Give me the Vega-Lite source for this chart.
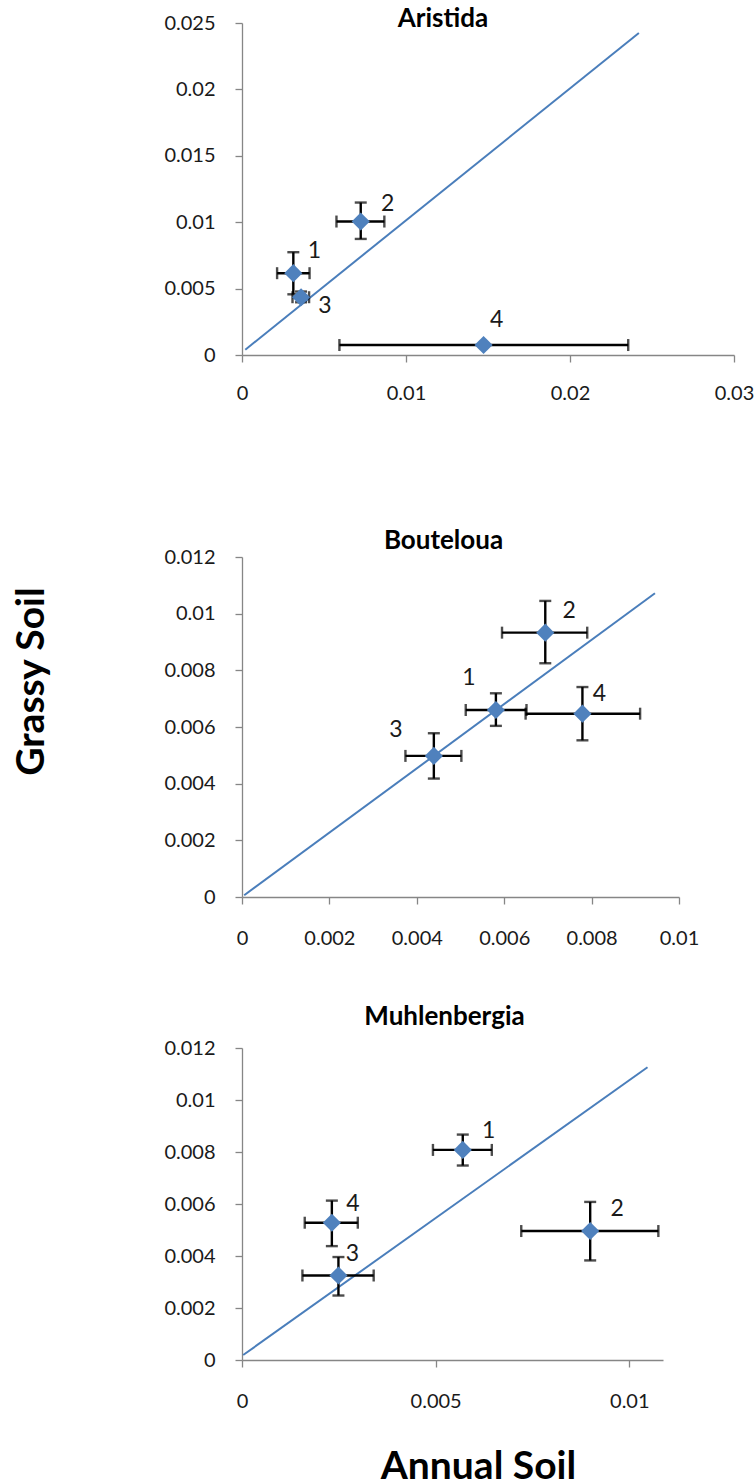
{
  "$schema": "https://vega.github.io/schema/vega-lite/v6.json",
  "background": "white",
  "padding": {"left": 12, "top": 6, "right": 0, "bottom": 0},
  "spacing": 125,
  "config": {
    "font": "Lato",
    "view": {"stroke": null},
    "axis": {
      "grid": false,
      "domainColor": "#868686",
      "tickColor": "#868686",
      "domainWidth": 1.3,
      "tickWidth": 1.3,
      "tickSize": 7,
      "labelFont": "Lato",
      "labelFontSize": 20,
      "labelColor": "#1a1a1a",
      "labelFlush": false,
      "labelOverlap": false,
      "titleFont": "Lato",
      "titleFontWeight": "bold",
      "titleFontSize": 39,
      "titleColor": "#000000"
    },
    "title": {"font": "Lato", "fontSize": 26, "fontWeight": "bold", "color": "#000000", "anchor": "middle", "baseline": "alphabetic"},
    "text": {"font": "Lato", "fontSize": 23, "color": "#1a1a1a", "align": "center", "baseline": "middle"}
  },
  "datasets": {
    "points": [
      {"species": "Aristida", "id": "1", "x": 0.00313, "y": 0.00616, "x_lo": 0.00214, "x_hi": 0.00412, "y_lo": 0.00457, "y_hi": 0.00774},
      {"species": "Aristida", "id": "2", "x": 0.00724, "y": 0.01005, "x_lo": 0.00576, "x_hi": 0.00868, "y_lo": 0.00874, "y_hi": 0.01148},
      {"species": "Aristida", "id": "3", "x": 0.0036, "y": 0.00435, "x_lo": 0.00308, "x_hi": 0.00409, "y_lo": 0.00397, "y_hi": 0.00478},
      {"species": "Aristida", "id": "4", "x": 0.01473, "y": 0.00075, "x_lo": 0.00594, "x_hi": 0.02355, "y_lo": 0.0007, "y_hi": 0.0008},
      {"species": "Bouteloua", "id": "1", "x": 0.00581, "y": 0.0066, "x_lo": 0.00512, "x_hi": 0.00651, "y_lo": 0.00604, "y_hi": 0.00719},
      {"species": "Bouteloua", "id": "2", "x": 0.00694, "y": 0.00933, "x_lo": 0.00595, "x_hi": 0.0079, "y_lo": 0.00825, "y_hi": 0.01045},
      {"species": "Bouteloua", "id": "3", "x": 0.00439, "y": 0.00498, "x_lo": 0.00374, "x_hi": 0.00502, "y_lo": 0.00418, "y_hi": 0.00578},
      {"species": "Bouteloua", "id": "4", "x": 0.00779, "y": 0.00647, "x_lo": 0.00649, "x_hi": 0.00911, "y_lo": 0.00553, "y_hi": 0.00741},
      {"species": "Muhlenbergia", "id": "1", "x": 0.0057, "y": 0.00808, "x_lo": 0.00493, "x_hi": 0.00645, "y_lo": 0.00748, "y_hi": 0.00867},
      {"species": "Muhlenbergia", "id": "2", "x": 0.00899, "y": 0.00496, "x_lo": 0.00721, "x_hi": 0.01075, "y_lo": 0.00383, "y_hi": 0.00608},
      {"species": "Muhlenbergia", "id": "3", "x": 0.00249, "y": 0.00325, "x_lo": 0.00156, "x_hi": 0.0034, "y_lo": 0.00248, "y_hi": 0.00396},
      {"species": "Muhlenbergia", "id": "4", "x": 0.00232, "y": 0.00528, "x_lo": 0.00162, "x_hi": 0.00299, "y_lo": 0.00438, "y_hi": 0.00613}
    ],
    "fit": [
      {"species": "Aristida", "x": 0.0002, "y": 0.0004},
      {"species": "Aristida", "x": 0.0242, "y": 0.02425},
      {"species": "Bouteloua", "x": 0.00005, "y": 0.00006},
      {"species": "Bouteloua", "x": 0.00945, "y": 0.01072},
      {"species": "Muhlenbergia", "x": 0.00003, "y": 0.00019},
      {"species": "Muhlenbergia", "x": 0.01047, "y": 0.01126}
    ]
  },
  "vconcat": [
    {
      "width": 492,
      "height": 332,
      "title": {"text": "Aristida", "offset": -19, "dx": -45},
      "layer": [
        {
          "data": {"name": "fit"},
          "transform": [{"filter": "datum.species === 'Aristida'"}],
          "mark": {"type": "line", "color": "#4A7EBB", "strokeWidth": 2},
          "encoding": {
            "x": {"field": "x", "type": "quantitative", "scale": {"domain": [0, 0.03], "nice": false, "zero": true}, "axis": {"values": [0, 0.01, 0.02, 0.03], "format": "~g", "title": null, "labelPadding": 21}},
            "y": {"field": "y", "type": "quantitative", "scale": {"domain": [0, 0.025], "nice": false, "zero": true}, "axis": {"values": [0, 0.005, 0.01, 0.015, 0.02, 0.025], "format": "~g", "title": null, "labelPadding": 20}}
          }
        },
        {
          "data": {"name": "points"},
          "transform": [{"filter": "datum.species === 'Aristida'"}],
          "mark": {"type": "errorbar", "ticks": true, "color": "#000000", "thickness": 2.4, "size": 12},
          "encoding": {
            "x": {"field": "x_lo", "type": "quantitative", "scale": {"domain": [0, 0.03], "nice": false}},
            "x2": {"field": "x_hi"},
            "y": {"field": "y", "type": "quantitative", "scale": {"domain": [0, 0.025], "nice": false}}
          }
        },
        {
          "data": {"name": "points"},
          "transform": [{"filter": "datum.species === 'Aristida'"}],
          "mark": {"type": "errorbar", "ticks": true, "color": "#000000", "thickness": 2.4, "size": 12},
          "encoding": {
            "y": {"field": "y_lo", "type": "quantitative", "scale": {"domain": [0, 0.025], "nice": false}},
            "y2": {"field": "y_hi"},
            "x": {"field": "x", "type": "quantitative", "scale": {"domain": [0, 0.03], "nice": false}}
          }
        },
        {
          "data": {"name": "points"},
          "transform": [{"filter": "datum.species === 'Aristida'"}],
          "mark": {"type": "point", "shape": "diamond", "filled": true, "color": "#4F81BD", "opacity": 1, "size": 330},
          "encoding": {
            "x": {"field": "x", "type": "quantitative", "scale": {"domain": [0, 0.03], "nice": false}},
            "y": {"field": "y", "type": "quantitative", "scale": {"domain": [0, 0.025], "nice": false}}
          }
        },
        {
          "data": {"name": "points"},
          "transform": [{"filter": "datum.species === 'Aristida' && datum.id === '1'"}],
          "mark": {"type": "text", "dx": 21, "dy": -22},
          "encoding": {
            "x": {"field": "x", "type": "quantitative", "scale": {"domain": [0, 0.03], "nice": false}},
            "y": {"field": "y", "type": "quantitative", "scale": {"domain": [0, 0.025], "nice": false}},
            "text": {"field": "id"}
          }
        },
        {
          "data": {"name": "points"},
          "transform": [{"filter": "datum.species === 'Aristida' && datum.id === '2'"}],
          "mark": {"type": "text", "dx": 27, "dy": -18},
          "encoding": {
            "x": {"field": "x", "type": "quantitative", "scale": {"domain": [0, 0.03], "nice": false}},
            "y": {"field": "y", "type": "quantitative", "scale": {"domain": [0, 0.025], "nice": false}},
            "text": {"field": "id"}
          }
        },
        {
          "data": {"name": "points"},
          "transform": [{"filter": "datum.species === 'Aristida' && datum.id === '3'"}],
          "mark": {"type": "text", "dx": 24, "dy": 9},
          "encoding": {
            "x": {"field": "x", "type": "quantitative", "scale": {"domain": [0, 0.03], "nice": false}},
            "y": {"field": "y", "type": "quantitative", "scale": {"domain": [0, 0.025], "nice": false}},
            "text": {"field": "id"}
          }
        },
        {
          "data": {"name": "points"},
          "transform": [{"filter": "datum.species === 'Aristida' && datum.id === '4'"}],
          "mark": {"type": "text", "dx": 13, "dy": -25},
          "encoding": {
            "x": {"field": "x", "type": "quantitative", "scale": {"domain": [0, 0.03], "nice": false}},
            "y": {"field": "y", "type": "quantitative", "scale": {"domain": [0, 0.025], "nice": false}},
            "text": {"field": "id"}
          }
        }
      ]
    },
    {
      "spacing": 56,
      "vconcat": [
        {
          "width": 437,
          "height": 340,
          "title": {"text": "Bouteloua", "offset": -7, "dx": -17},
          "layer": [
            {
              "data": {"name": "fit"},
              "transform": [{"filter": "datum.species === 'Bouteloua'"}],
              "mark": {"type": "line", "color": "#4A7EBB", "strokeWidth": 2},
              "encoding": {
                "x": {"field": "x", "type": "quantitative", "scale": {"domain": [0, 0.01], "nice": false, "zero": true}, "axis": {"values": [0, 0.002, 0.004, 0.006, 0.008, 0.01], "format": "~g", "title": null, "labelPadding": 24}},
                "y": {"field": "y", "type": "quantitative", "title": "Grassy Soil", "scale": {"domain": [0, 0.012], "nice": false, "zero": true}, "axis": {"values": [0, 0.002, 0.004, 0.006, 0.008, 0.01, 0.012], "format": "~g", "labelPadding": 20, "titleX": -199, "titleY": 124, "titleAngle": -90, "titleBaseline": "alphabetic", "titleAlign": "center"}}
              }
            },
            {
              "data": {"name": "points"},
              "transform": [{"filter": "datum.species === 'Bouteloua'"}],
              "mark": {"type": "errorbar", "ticks": true, "color": "#000000", "thickness": 2.4, "size": 12},
              "encoding": {
                "x": {"field": "x_lo", "type": "quantitative", "scale": {"domain": [0, 0.01], "nice": false}},
                "x2": {"field": "x_hi"},
                "y": {"field": "y", "type": "quantitative", "title": "Grassy Soil", "scale": {"domain": [0, 0.012], "nice": false}}
              }
            },
            {
              "data": {"name": "points"},
              "transform": [{"filter": "datum.species === 'Bouteloua'"}],
              "mark": {"type": "errorbar", "ticks": true, "color": "#000000", "thickness": 2.4, "size": 12},
              "encoding": {
                "y": {"field": "y_lo", "type": "quantitative", "title": "Grassy Soil", "scale": {"domain": [0, 0.012], "nice": false}},
                "y2": {"field": "y_hi"},
                "x": {"field": "x", "type": "quantitative", "scale": {"domain": [0, 0.01], "nice": false}}
              }
            },
            {
              "data": {"name": "points"},
              "transform": [{"filter": "datum.species === 'Bouteloua'"}],
              "mark": {"type": "point", "shape": "diamond", "filled": true, "color": "#4F81BD", "opacity": 1, "size": 330},
              "encoding": {
                "x": {"field": "x", "type": "quantitative", "scale": {"domain": [0, 0.01], "nice": false}},
                "y": {"field": "y", "type": "quantitative", "title": "Grassy Soil", "scale": {"domain": [0, 0.012], "nice": false}}
              }
            },
            {
              "data": {"name": "points"},
              "transform": [{"filter": "datum.species === 'Bouteloua' && datum.id === '1'"}],
              "mark": {"type": "text", "dx": -27, "dy": -32},
              "encoding": {
                "x": {"field": "x", "type": "quantitative", "scale": {"domain": [0, 0.01], "nice": false}},
                "y": {"field": "y", "type": "quantitative", "title": "Grassy Soil", "scale": {"domain": [0, 0.012], "nice": false}},
                "text": {"field": "id"}
              }
            },
            {
              "data": {"name": "points"},
              "transform": [{"filter": "datum.species === 'Bouteloua' && datum.id === '2'"}],
              "mark": {"type": "text", "dx": 24, "dy": -22},
              "encoding": {
                "x": {"field": "x", "type": "quantitative", "scale": {"domain": [0, 0.01], "nice": false}},
                "y": {"field": "y", "type": "quantitative", "title": "Grassy Soil", "scale": {"domain": [0, 0.012], "nice": false}},
                "text": {"field": "id"}
              }
            },
            {
              "data": {"name": "points"},
              "transform": [{"filter": "datum.species === 'Bouteloua' && datum.id === '3'"}],
              "mark": {"type": "text", "dx": -38, "dy": -26},
              "encoding": {
                "x": {"field": "x", "type": "quantitative", "scale": {"domain": [0, 0.01], "nice": false}},
                "y": {"field": "y", "type": "quantitative", "title": "Grassy Soil", "scale": {"domain": [0, 0.012], "nice": false}},
                "text": {"field": "id"}
              }
            },
            {
              "data": {"name": "points"},
              "transform": [{"filter": "datum.species === 'Bouteloua' && datum.id === '4'"}],
              "mark": {"type": "text", "dx": 17, "dy": -20},
              "encoding": {
                "x": {"field": "x", "type": "quantitative", "scale": {"domain": [0, 0.01], "nice": false}},
                "y": {"field": "y", "type": "quantitative", "title": "Grassy Soil", "scale": {"domain": [0, 0.012], "nice": false}},
                "text": {"field": "id"}
              }
            }
          ]
        },
        {
          "width": 421,
          "height": 312,
          "title": {"text": "Muhlenbergia", "offset": 8, "dx": -8},
          "layer": [
            {
              "data": {"name": "fit"},
              "transform": [{"filter": "datum.species === 'Muhlenbergia'"}],
              "mark": {"type": "line", "color": "#4A7EBB", "strokeWidth": 2},
              "encoding": {
                "x": {"field": "x", "type": "quantitative", "title": "Annual Soil", "scale": {"domain": [0, 0.01087], "nice": false, "zero": true}, "axis": {"values": [0, 0.005, 0.01], "format": "~g", "labelPadding": 24, "titleX": 236, "titleY": 118, "titleBaseline": "alphabetic", "titleAlign": "center"}},
                "y": {"field": "y", "type": "quantitative", "scale": {"domain": [0, 0.012], "nice": false, "zero": true}, "axis": {"values": [0, 0.002, 0.004, 0.006, 0.008, 0.01, 0.012], "format": "~g", "title": null, "labelPadding": 20}}
              }
            },
            {
              "data": {"name": "points"},
              "transform": [{"filter": "datum.species === 'Muhlenbergia'"}],
              "mark": {"type": "errorbar", "ticks": true, "color": "#000000", "thickness": 2.4, "size": 12},
              "encoding": {
                "x": {"field": "x_lo", "type": "quantitative", "title": "Annual Soil", "scale": {"domain": [0, 0.01087], "nice": false}},
                "x2": {"field": "x_hi"},
                "y": {"field": "y", "type": "quantitative", "scale": {"domain": [0, 0.012], "nice": false}}
              }
            },
            {
              "data": {"name": "points"},
              "transform": [{"filter": "datum.species === 'Muhlenbergia'"}],
              "mark": {"type": "errorbar", "ticks": true, "color": "#000000", "thickness": 2.4, "size": 12},
              "encoding": {
                "y": {"field": "y_lo", "type": "quantitative", "scale": {"domain": [0, 0.012], "nice": false}},
                "y2": {"field": "y_hi"},
                "x": {"field": "x", "type": "quantitative", "title": "Annual Soil", "scale": {"domain": [0, 0.01087], "nice": false}}
              }
            },
            {
              "data": {"name": "points"},
              "transform": [{"filter": "datum.species === 'Muhlenbergia'"}],
              "mark": {"type": "point", "shape": "diamond", "filled": true, "color": "#4F81BD", "opacity": 1, "size": 330},
              "encoding": {
                "x": {"field": "x", "type": "quantitative", "title": "Annual Soil", "scale": {"domain": [0, 0.01087], "nice": false}},
                "y": {"field": "y", "type": "quantitative", "scale": {"domain": [0, 0.012], "nice": false}}
              }
            },
            {
              "data": {"name": "points"},
              "transform": [{"filter": "datum.species === 'Muhlenbergia' && datum.id === '1'"}],
              "mark": {"type": "text", "dx": 26, "dy": -19},
              "encoding": {
                "x": {"field": "x", "type": "quantitative", "title": "Annual Soil", "scale": {"domain": [0, 0.01087], "nice": false}},
                "y": {"field": "y", "type": "quantitative", "scale": {"domain": [0, 0.012], "nice": false}},
                "text": {"field": "id"}
              }
            },
            {
              "data": {"name": "points"},
              "transform": [{"filter": "datum.species === 'Muhlenbergia' && datum.id === '2'"}],
              "mark": {"type": "text", "dx": 27, "dy": -22},
              "encoding": {
                "x": {"field": "x", "type": "quantitative", "title": "Annual Soil", "scale": {"domain": [0, 0.01087], "nice": false}},
                "y": {"field": "y", "type": "quantitative", "scale": {"domain": [0, 0.012], "nice": false}},
                "text": {"field": "id"}
              }
            },
            {
              "data": {"name": "points"},
              "transform": [{"filter": "datum.species === 'Muhlenbergia' && datum.id === '3'"}],
              "mark": {"type": "text", "dx": 14, "dy": -22},
              "encoding": {
                "x": {"field": "x", "type": "quantitative", "title": "Annual Soil", "scale": {"domain": [0, 0.01087], "nice": false}},
                "y": {"field": "y", "type": "quantitative", "scale": {"domain": [0, 0.012], "nice": false}},
                "text": {"field": "id"}
              }
            },
            {
              "data": {"name": "points"},
              "transform": [{"filter": "datum.species === 'Muhlenbergia' && datum.id === '4'"}],
              "mark": {"type": "text", "dx": 21, "dy": -19},
              "encoding": {
                "x": {"field": "x", "type": "quantitative", "title": "Annual Soil", "scale": {"domain": [0, 0.01087], "nice": false}},
                "y": {"field": "y", "type": "quantitative", "scale": {"domain": [0, 0.012], "nice": false}},
                "text": {"field": "id"}
              }
            }
          ]
        }
      ]
    }
  ]
}
